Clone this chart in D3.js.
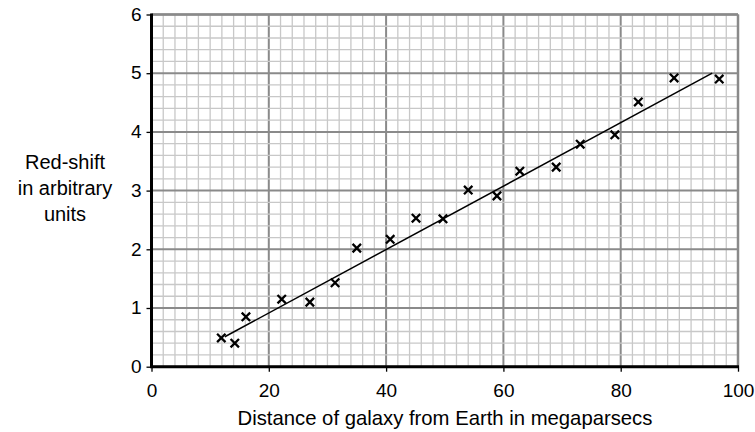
<!DOCTYPE html>
<html><head><meta charset="utf-8">
<script src="https://cdn.jsdelivr.net/npm/d3@7"></script>
<style>body{margin:0;background:#fff}svg{display:block}text{font-family:"Liberation Sans",Arial,sans-serif;fill:#000}</style>
</head><body><svg id="c" width="755" height="432"></svg>
<script>
const distance = [11.9,14.2,16.1,22.2,27.0,31.3,35.0,40.7,45.1,49.7,54.0,58.9,62.8,69.0,73.1,79.0,83.0,89.1,96.8];
const redshift = [0.49,0.40,0.85,1.15,1.10,1.43,2.02,2.17,2.53,2.52,3.01,2.91,3.33,3.40,3.79,3.95,4.51,4.92,4.90];
const fitLine = [[12.5,0.51],[95.6,5.0]];
const xTicks = [0,20,40,60,80,100];
const yTicks = [0,1,2,3,4,5,6];
const yLabel = ["Red-shift","in arbitrary","units"];
const xLabel = "Distance of galaxy from Earth in megaparsecs";

const svg = d3.select("#c");
const x = d3.scaleLinear().domain([0,100]).range([151.5,738]);
const y = d3.scaleLinear().domain([0,6]).range([366.7,14.5]);

const g = svg.append("g");
g.selectAll(".vx").data(d3.range(0,101,2)).enter().append("line")
  .attr("x1",d=>x(d)).attr("x2",d=>x(d)).attr("y1",y(0)).attr("y2",y(6))
  .attr("stroke",d=>d%20===0?"#8a8a8a":"#c8c8c8").attr("stroke-width",d=>d%20===0?2:1.3);
g.selectAll(".hy").data(d3.range(0,31).map(i=>i/5)).enter().append("line")
  .attr("y1",d=>y(d)).attr("y2",d=>y(d)).attr("x1",x(0)).attr("x2",x(100))
  .attr("stroke",(d,i)=>i%5===0?"#8a8a8a":"#c8c8c8").attr("stroke-width",(d,i)=>i%5===0?2:1.3);
g.append("line").attr("x1",x(0)).attr("x2",x(100)).attr("y1",y(6)).attr("y2",y(6)).attr("stroke","#8a8a8a").attr("stroke-width",2.5);
g.append("line").attr("x1",x(100)).attr("x2",x(100)).attr("y1",y(0)).attr("y2",y(6)).attr("stroke","#8a8a8a").attr("stroke-width",2.5);

const xAxis = svg.append("g").attr("transform",`translate(0,${y(0)})`)
  .call(d3.axisBottom(x).tickValues(xTicks).tickSize(5).tickPadding(7).tickFormat(d3.format("d")));
const yAxis = svg.append("g").attr("transform",`translate(${x(0)},0)`)
  .call(d3.axisLeft(y).tickValues(yTicks).tickSize(5).tickPadding(5).tickFormat(d3.format("d")));
[xAxis,yAxis].forEach(a=>{
  a.select(".domain").remove();
  a.selectAll(".tick line").attr("stroke","#000").attr("stroke-width",1.3);
  a.selectAll("text").attr("font-size",19).attr("font-family","Liberation Sans, Arial, sans-serif").attr("fill","#000");
});
yAxis.selectAll("text").attr("dy","0.3em");
xAxis.selectAll("text").attr("dy","0.95em");
svg.append("line").attr("x1",x(0)).attr("x2",x(100)+1).attr("y1",y(0)).attr("y2",y(0)).attr("stroke","#000").attr("stroke-width",3);
svg.append("line").attr("x1",x(0)).attr("x2",x(0)).attr("y1",y(0)+1.5).attr("y2",y(6)-1).attr("stroke","#000").attr("stroke-width",3);

svg.append("line").attr("x1",x(fitLine[0][0])).attr("y1",y(fitLine[0][1]))
  .attr("x2",x(fitLine[1][0])).attr("y2",y(fitLine[1][1])).attr("stroke","#000").attr("stroke-width",1.5);

const pts = distance.map((d,i)=>[d,redshift[i]]);
const s = 4.2;
svg.selectAll(".pt").data(pts).enter().append("path")
  .attr("d",d=>{const cx=x(d[0]),cy=y(d[1]);return `M${cx-s},${cy-s}L${cx+s},${cy+s}M${cx-s},${cy+s}L${cx+s},${cy-s}`;})
  .attr("stroke","#000").attr("stroke-width",2.3);

svg.append("text").attr("x",445).attr("y",425).attr("text-anchor","middle").attr("font-size",20.3).text(xLabel);
svg.append("text").attr("x",65).attr("y",169).attr("text-anchor","middle").attr("font-size",20)
  .selectAll("tspan").data(yLabel).enter().append("tspan").attr("x",65).attr("dy",(d,i)=>i?26:0).text(d=>d);
</script></body></html>
